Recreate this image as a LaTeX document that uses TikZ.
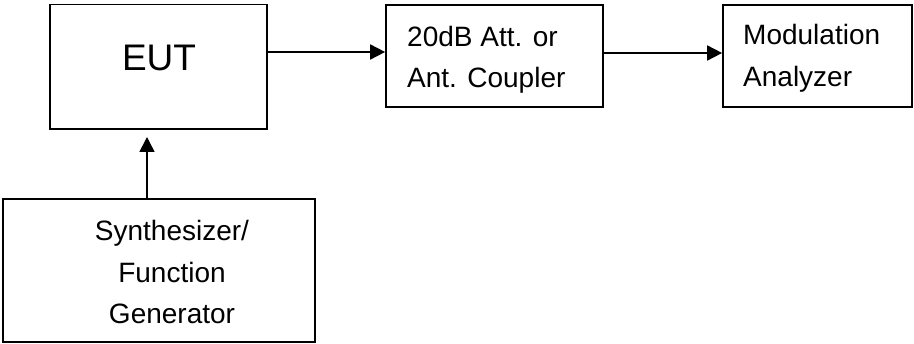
\documentclass[tikz,border=0pt]{standalone}
\usepackage{fontspec}
\setmainfont{Liberation Sans}
\usetikzlibrary{arrows.meta}
\begin{document}
\begin{tikzpicture}[x=1pt,y=-1pt,
  box/.style={draw=black,line width=1.7pt,inner sep=0pt,fill=none},
  lbl/.style={inner sep=0pt,font=\fontsize{28}{41}\selectfont},
  arr/.style={line width=1.7pt,-{Triangle[length=15pt,width=15pt]}}]
\useasboundingbox (0,0) rectangle (914,344);
\node[box,minimum width=217pt,minimum height=124.5pt] (eut) at (158.5,66.75) {};
\node[box,minimum width=217pt,minimum height=102pt] (att) at (494.5,56) {};
\node[box,minimum width=189pt,minimum height=102pt] (mod) at (817.5,56) {};
\node[box,minimum width=312pt,minimum height=143pt] (syn) at (159,270.5) {};
\node[inner sep=0pt,anchor=base,font=\fontsize{37}{44}\selectfont] (teut) at (159,71) {EUT};
\node[lbl,anchor=base west] (ta1) at (407,47) {20dB Att. or};
\node[lbl,anchor=base west] (ta2) at (407,88) {Ant. Coupler};
\node[lbl,anchor=base west] (tm1) at (743,45) {Modulation};
\node[lbl,anchor=base west] (tm2) at (743,87) {Analyzer};
\node[lbl,anchor=base] (ts1) at (172,241) {Synthesizer/};
\node[lbl,anchor=base] (ts2) at (172,283) {Function};
\node[lbl,anchor=base] (ts3) at (172,324) {Generator};
\draw[arr] (eut.east |- 0,52) -- (att.west |- 0,52);
\draw[arr] (att.east |- 0,53) -- (mod.west |- 0,53);
\coordinate (vtip) at (147,137);
\draw[arr] (syn.north -| vtip) -- (vtip);
\end{tikzpicture}
\end{document}
